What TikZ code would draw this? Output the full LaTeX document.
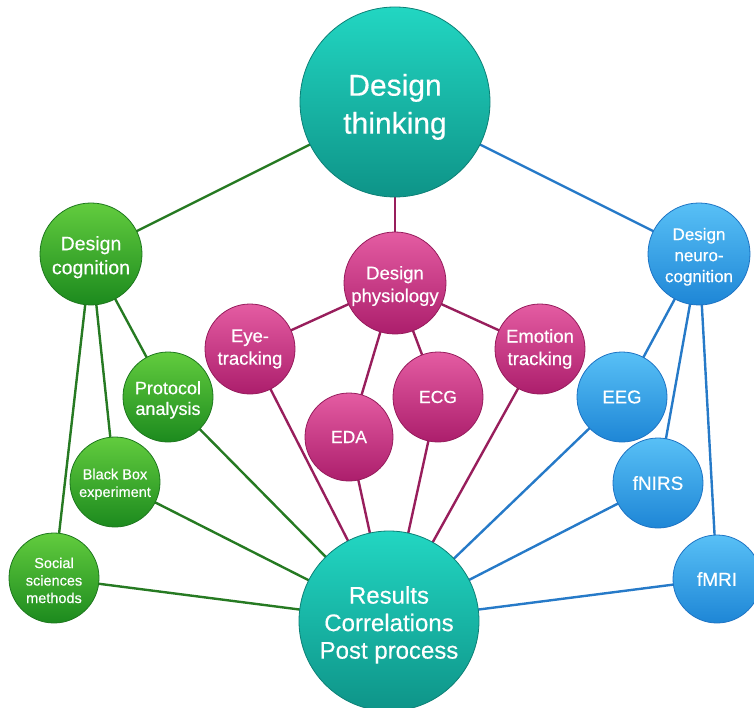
\documentclass[tikz,border=0pt]{standalone}
\usepackage{fontspec}
\setmainfont{Liberation Sans}[FakeBold=0.4]
\usetikzlibrary{backgrounds}
\newcommand\myup{\rule{0pt}{1.05em}}
\definecolor{tealT}{RGB}{34,214,194}
\definecolor{tealB}{RGB}{14,148,136}
\definecolor{tealE}{RGB}{12,128,118}
\definecolor{grnT}{RGB}{98,204,62}
\definecolor{grnB}{RGB}{28,138,30}
\definecolor{grnE}{RGB}{30,120,30}
\definecolor{magT}{RGB}{228,92,162}
\definecolor{magB}{RGB}{172,30,108}
\definecolor{magE}{RGB}{150,28,92}
\definecolor{bluT}{RGB}{88,192,246}
\definecolor{bluB}{RGB}{30,134,214}
\definecolor{bluE}{RGB}{30,116,196}
\definecolor{grnL}{RGB}{38,122,34}
\definecolor{magL}{RGB}{152,30,92}
\definecolor{bluL}{RGB}{38,122,200}
\tikzset{
  bubble/.style={circle, inner sep=0pt, align=center, text=white, line width=0.8pt},
  tealbub/.style={bubble, top color=tealT, bottom color=tealB, draw=tealE},
  grnbub/.style={bubble, top color=grnT, bottom color=grnB, draw=grnE},
  magbub/.style={bubble, top color=magT, bottom color=magB, draw=magE},
  blubub/.style={bubble, top color=bluT, bottom color=bluB, draw=bluE},
  gline/.style={draw=grnL, line width=2.4pt},
  mline/.style={draw=magL, line width=2.4pt},
  bline/.style={draw=bluL, line width=2.4pt},
}
\begin{document}
\begin{tikzpicture}[x=1pt,y=-1pt]
\useasboundingbox (0,0) rectangle (754,708);
% main
\node[tealbub, minimum size=190pt, font=\fontsize{30}{38}\selectfont] (think) at (395,102) {\myup Design\\thinking};
\node[tealbub, minimum size=180pt, font=\fontsize{24}{27.5}\selectfont] (res) at (389,621) {\myup Results\\Correlations\\Post process};
% green
\node[grnbub, minimum size=102pt, font=\fontsize{19.5}{24}\selectfont] (cog) at (91,254) {\myup Design\\cognition};
\node[grnbub, minimum size=90pt, font=\fontsize{18}{20.7}\selectfont] (prot) at (168,397) {\myup Protocol\\analysis};
\node[grnbub, minimum size=90pt, font=\fontsize{14.5}{17.7}\selectfont] (bb) at (115,482) {\myup Black Box\\experiment};
\node[grnbub, minimum size=90pt, font=\fontsize{14.5}{17.5}\selectfont] (soc) at (54,578) {\myup Social\\sciences\\methods};
% magenta
\node[magbub, minimum size=102pt, font=\fontsize{18.5}{22.7}\selectfont] (phys) at (395,283) {\myup Design\\physiology};
\node[magbub, minimum size=90pt, font=\fontsize{18.5}{22.5}\selectfont] (eye) at (250,349) {Eye-\\tracking};
\node[magbub, minimum size=90pt, font=\fontsize{18.5}{22.5}\selectfont] (emo) at (540,349) {Emotion\\tracking};
\node[magbub, minimum size=88pt, font=\fontsize{17.5}{21}\selectfont] (eda) at (349,437) {EDA};
\node[magbub, minimum size=90pt, font=\fontsize{17.5}{21}\selectfont] (ecg) at (438,397) {ECG};
% blue
\node[blubub, minimum size=102pt, font=\fontsize{17}{21}\selectfont] (neuro) at (699,254) {\myup Design\\neuro-\\cognition};
\node[blubub, minimum size=90pt, font=\fontsize{18.5}{21}\selectfont] (eeg) at (622,397) {EEG};
\node[blubub, minimum size=90pt, font=\fontsize{19}{21}\selectfont] (fnirs) at (658,483) {fNIRS};
\node[blubub, minimum size=88pt, font=\fontsize{19}{21}\selectfont] (fmri) at (717,579) {fMRI};
\begin{scope}[on background layer]
  \draw[gline] (think.center) -- (cog.center);
  \draw[gline] (cog.center) -- (prot.center);
  \draw[gline] (cog.center) -- (bb.center);
  \draw[gline] (cog.center) -- (soc.center);
  \draw[gline] (res.center) -- (prot.center);
  \draw[gline] (res.center) -- (bb.center);
  \draw[gline] (res.center) -- (soc.center);
  \draw[mline] (think.center) -- (phys.center);
  \draw[mline] (phys.center) -- (eye.center);
  \draw[mline] (phys.center) -- (emo.center);
  \draw[mline] (phys.center) -- (eda.center);
  \draw[mline] (phys.center) -- (ecg.center);
  \draw[mline] (res.center) -- (eye.center);
  \draw[mline] (res.center) -- (eda.center);
  \draw[mline] (res.center) -- (ecg.center);
  \draw[mline] (res.center) -- (emo.center);
  \draw[bline] (think.center) -- (neuro.center);
  \draw[bline] (neuro.center) -- (eeg.center);
  \draw[bline] (neuro.center) -- (fnirs.center);
  \draw[bline] (neuro.center) -- (fmri.center);
  \draw[bline] (res.center) -- (eeg.center);
  \draw[bline] (res.center) -- (fnirs.center);
  \draw[bline] (res.center) -- (fmri.center);
\end{scope}
\end{tikzpicture}
\end{document}
